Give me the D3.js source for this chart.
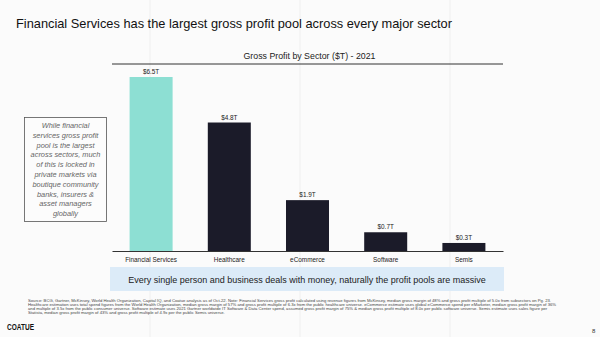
<!DOCTYPE html>
<html>
<head>
<meta charset="utf-8">
<script src="https://cdn.jsdelivr.net/npm/d3@7"></script>
<style>
  body { margin: 0; background: #fbfbfb; }
  svg { display: block; font-family: "Liberation Sans", Arial, sans-serif; }
</style>
</head>
<body>
<div id="chart"></div>
<script>
// data
var sectors = ["Financial Services", "Healthcare", "eCommerce", "Software", "Semis"];
var profit = [6.5, 4.8, 1.9, 0.7, 0.3];
var labels = ["$6.5T", "$4.8T", "$1.9T", "$0.7T", "$0.3T"];

var noteLines = [
    "While financial", "services gross profit", "pool is the largest",
    "across sectors, much", "of this is locked in", "private markets via",
    "boutique community", "banks, insurers &", "asset managers", "globally"
];

var sourceLines = [
    "Source: BCG, Gartner, McKinsey, World Health Organization, Capital IQ, and Coatue analysis as of Oct-22. Note: Financial Services gross profit calculated using revenue figures from McKinsey, median gross margin of 48% and gross profit multiple of 5.0x from subsectors on Pg. 23.",
    "Healthcare estimation uses total spend figures from the World Health Organization, median gross margin of 57% and gross profit multiple of 6.3x from the public healthcare universe. eCommerce estimate uses global eCommerce spend per eMarketer, median gross profit margin of 36%",
    "and multiple of 3.5x from the public consumer universe. Software estimate uses 2021 Gartner worldwide IT Software & Data Center spend, assumed gross profit margin of 75% & median gross profit multiple of 8.0x per public software universe. Semis estimate uses sales figure per",
    "Statista, median gross profit margin of 43% and gross profit multiple of 4.9x per the public Semis universe."
];

var svgWidth = 600;
var svgHeight = 337;

var svg = d3.select("#chart")
    .append("svg")
    .attr("width", svgWidth)
    .attr("height", svgHeight);

svg.append("rect")
    .attr("width", svgWidth)
    .attr("height", svgHeight)
    .attr("fill", "#fbfbfb");

// faint slide grid
[150, 300, 450].forEach(function (x) {
    svg.append("line")
        .attr("x1", x).attr("x2", x)
        .attr("y1", 0).attr("y2", svgHeight)
        .attr("stroke", "#efefef")
        .attr("stroke-width", 1);
});

// headline
svg.append("text")
    .attr("x", 16)
    .attr("y", 28)
    .attr("font-size", "12.8px")
    .attr("fill", "#111")
    .text("Financial Services has the largest gross profit pool across every major sector");

// chart area
var margin = { top: 64, left: 112, right: 97, bottom: 86 };
var width = svgWidth - margin.left - margin.right;
var height = svgHeight - margin.top - margin.bottom;

var chart = svg.append("g")
    .attr("transform", `translate(${margin.left}, ${margin.top})`);

chart.append("text")
    .attr("x", width / 2 + 2)
    .attr("y", -5.5)
    .attr("text-anchor", "middle")
    .attr("font-size", "8.8px")
    .attr("fill", "#222")
    .text("Gross Profit by Sector ($T) - 2021");

chart.append("line")
    .attr("x1", 0).attr("x2", width)
    .attr("y1", 0).attr("y2", 0)
    .attr("stroke", "#333")
    .attr("stroke-width", 1);

var xScale = d3.scaleBand()
    .domain(sectors)
    .range([0, width])
    .paddingInner(0.45)
    .paddingOuter(0.225);

var yScale = d3.scaleLinear()
    .domain([0, 6.5])
    .range([height, height - 174]);

chart.selectAll(".bar")
    .data(sectors)
    .enter()
    .append("rect")
    .attr("class", "bar")
    .attr("x", d => xScale(d))
    .attr("y", (d, i) => yScale(profit[i]))
    .attr("width", xScale.bandwidth())
    .attr("height", (d, i) => yScale(0) - yScale(profit[i]))
    .attr("fill", (d, i) => i == 0 ? "#8ddfd3" : "#1b1b29");

chart.selectAll(".val")
    .data(sectors)
    .enter()
    .append("text")
    .attr("class", "val")
    .attr("x", d => xScale(d) + xScale.bandwidth() / 2)
    .attr("y", (d, i) => yScale(profit[i]) - 3)
    .attr("text-anchor", "middle")
    .attr("font-size", "6.4px")
    .attr("fill", "#222")
    .text((d, i) => labels[i]);

var xAxis = d3.axisBottom(xScale).tickSize(0).tickPadding(6);

var gx = chart.append("g")
    .attr("transform", "translate(0," + height + ")")
    .call(xAxis);
gx.select(".domain").attr("stroke", "#333");
gx.selectAll("text")
    .attr("font-size", "6.4px")
    .attr("fill", "#222")
    .attr("font-family", "Liberation Sans, Arial, sans-serif");

// side note box
svg.append("rect")
    .attr("x", 24.5).attr("y", 117.5)
    .attr("width", 82).attr("height", 104)
    .attr("fill", "#fcfcfc")
    .attr("stroke", "#555")
    .attr("stroke-width", 0.8);

svg.append("g").selectAll("text")
    .data(noteLines)
    .enter()
    .append("text")
    .attr("x", 65.5)
    .attr("y", (d, i) => 128 + i * 9.8)
    .attr("text-anchor", "middle")
    .attr("font-size", "7.4px")
    .attr("font-style", "italic")
    .attr("fill", "#666")
    .text(d => d);

// banner
svg.append("rect")
    .attr("x", 110).attr("y", 267)
    .attr("width", 394).attr("height", 24)
    .attr("fill", "#dcebf8");

svg.append("text")
    .attr("x", 307)
    .attr("y", 282.5)
    .attr("text-anchor", "middle")
    .attr("font-size", "9px")
    .attr("fill", "#222")
    .text("Every single person and business deals with money, naturally the profit pools are massive");

// footnote
svg.append("g").selectAll("text")
    .data(sourceLines)
    .enter()
    .append("text")
    .attr("x", 28)
    .attr("y", (d, i) => 301.5 + i * 4.2)
    .attr("font-size", "4.2px")
    .attr("fill", "#444")
    .text(d => d);

svg.append("text")
    .attr("x", 7)
    .attr("y", 329.5)
    .attr("font-size", "8.4px")
    .attr("font-weight", "bold")
    .attr("textLength", 27)
    .attr("lengthAdjust", "spacingAndGlyphs")
    .attr("fill", "#111")
    .text("COATUE");

svg.append("text")
    .attr("x", 592)
    .attr("y", 333)
    .attr("font-size", "6px")
    .attr("fill", "#333")
    .text("8");
</script>
</body>
</html>
